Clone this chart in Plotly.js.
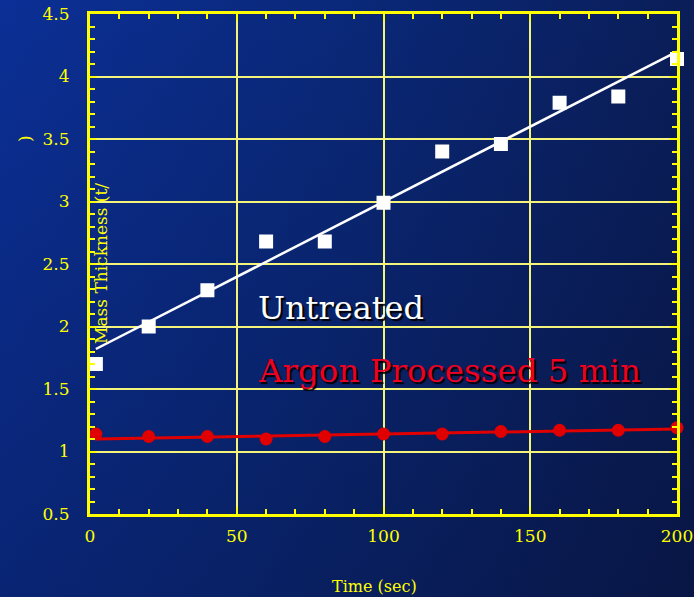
<!DOCTYPE html>
<html>
<head>
<meta charset="utf-8">
<script src="https://cdn.plot.ly/plotly-3.0.1.min.js"></script>
<style>
html,body{margin:0;padding:0;width:694px;height:597px;overflow:hidden;}
body{background:linear-gradient(to bottom, rgba(0,0,0,0) 0%, rgba(4,10,40,0.25) 100%), linear-gradient(100deg, #0b2f96 0%, #0a2878 45%, #0a1a4e 100%);}
#chart{width:694px;height:597px;}
</style>
</head>
<body>
<div id="chart"></div>
<script>
// Data
const timeSec = [2, 20, 40, 60, 80, 100, 120, 140, 160, 180, 200];
const untreated = [1.70, 2.00, 2.29, 2.68, 2.68, 2.99, 3.40, 3.46, 3.79, 3.84, 4.14];
const argon = [1.14, 1.12, 1.12, 1.10, 1.12, 1.14, 1.14, 1.16, 1.17, 1.17, 1.19];
const untreatedFitX = [2, 200];
const untreatedFitY = [1.82, 4.20];
const argonFitX = [2, 200];
const argonFitY = [1.10, 1.18];
const xTicks = [0, 50, 100, 150, 200];
const yTicks = [0.5, 1, 1.5, 2, 2.5, 3, 3.5, 4, 4.5];
const yTickText = ['0.5', '1', '1.5', '2', '2.5', '3', '3.5', '4', '4.5'];

const YEL = '#ffff00';
const GRID = '#f4f47a';
const SERIF = 'DejaVu Serif, Liberation Serif, serif';

const traces = [
  {x: untreatedFitX, y: untreatedFitY, mode: 'lines', line: {color: '#ffffff', width: 2.5}, hoverinfo: 'skip', cliponaxis: false},
  {x: argonFitX, y: argonFitY, mode: 'lines', line: {color: '#e00000', width: 3}, hoverinfo: 'skip', cliponaxis: false},
  {x: timeSec, y: untreated, mode: 'markers', marker: {symbol: 'square', size: 14, color: '#ffffff'}, cliponaxis: false},
  {x: timeSec, y: argon, mode: 'markers', marker: {symbol: 'circle', size: 13, color: '#e00000'}, cliponaxis: false}
];

const axisCommon = {
  showline: true, linecolor: YEL, linewidth: 3, mirror: 'allticks',
  ticks: 'inside', ticklen: 7, tickwidth: 2, tickcolor: YEL,
  showgrid: true, gridcolor: GRID, gridwidth: 2,
  zeroline: false,
  tickfont: {family: SERIF, size: 17, color: YEL},
  fixedrange: true
};

const layout = {
  width: 694, height: 597,
  paper_bgcolor: 'rgba(0,0,0,0)', plot_bgcolor: 'rgba(0,0,0,0)',
  margin: {l: 90, r: 17, t: 14, b: 83},
  showlegend: false,
  xaxis: Object.assign({}, axisCommon, {
    range: [0, 200], tickmode: 'array', tickvals: xTicks, ticktext: xTicks.map(String),
    ticklabelstandoff: 5,
    minor: {dtick: 10, ticks: 'inside', ticklen: 5, tickwidth: 2, tickcolor: YEL, showgrid: false},
    title: {text: ''}
  }),
  yaxis: Object.assign({}, axisCommon, {
    range: [0.5, 4.5], tickmode: 'array', tickvals: yTicks, ticktext: yTickText,
    ticklabelstandoff: 14,
    minor: {dtick: 0.1, ticks: 'inside', ticklen: 5, tickwidth: 2, tickcolor: YEL, showgrid: false},
    title: {text: ''}
  }),
  annotations: [
    {xref: 'paper', yref: 'paper', x: 0.5, y: 0, xanchor: 'center', yanchor: 'middle',
     xshift: -9, yshift: -72, showarrow: false,
     text: 'Time (sec)', font: {family: SERIF, size: 16, color: YEL}},
    {xref: 'paper', yref: 'paper', x: 0.0, y: 0.5, xanchor: 'left', yanchor: 'middle',
     xshift: -1, yshift: 0, textangle: -90, showarrow: false,
     text: 'Mass Thickness (t/', font: {family: SERIF, size: 17, color: YEL}},
    {xref: 'paper', yref: 'paper', x: 0, y: 0.75, xanchor: 'center', yanchor: 'middle',
     xshift: -65, yshift: 0, textangle: -90, showarrow: false,
     text: ')', font: {family: SERIF, size: 17, color: YEL}},
    {xref: 'x', yref: 'y', x: 56.5, y: 2.15, xanchor: 'left', yanchor: 'middle', showarrow: false,
     text: 'Untreated', font: {family: SERIF, size: 32, color: '#ffffff', shadow: '2px 2px 1px #000000'}},
    {xref: 'x', yref: 'y', x: 56.5, y: 1.645, xanchor: 'left', yanchor: 'middle', showarrow: false,
     text: 'Argon Processed 5 min', font: {family: SERIF, size: 32.5, color: '#ee0022', shadow: '2px 2px 1px #000000'}}
  ]
};

Plotly.newPlot('chart', traces, layout, {displayModeBar: false, staticPlot: true});
</script>
</body>
</html>
